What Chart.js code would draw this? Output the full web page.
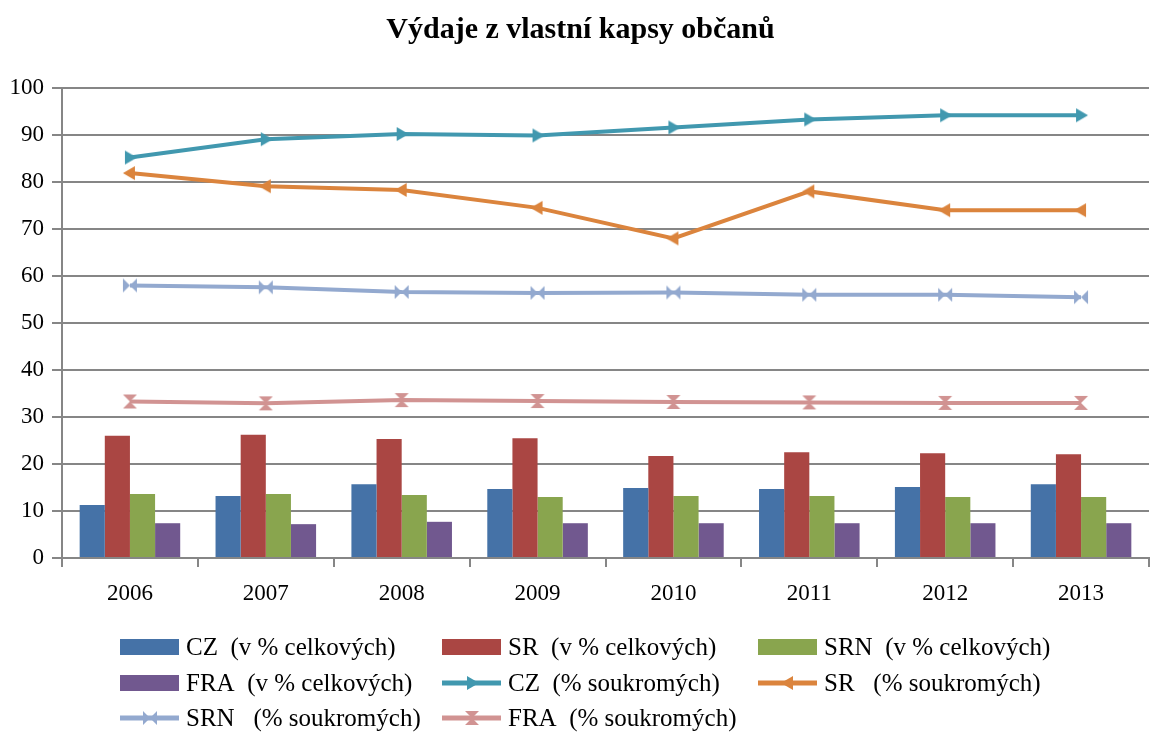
<!DOCTYPE html>
<html>
<head>
<meta charset="utf-8">
<script src="https://cdn.jsdelivr.net/npm/chart.js@4.4.1/dist/chart.umd.min.js"></script>
<style>
  html, body { margin: 0; padding: 0; background: #fff; }
</style>
</head>
<body>
<canvas id="chart" width="1161" height="736"></canvas>
<script>
const years = ["2006", "2007", "2008", "2009", "2010", "2011", "2012", "2013"];
const yTicks = [0, 10, 20, 30, 40, 50, 60, 70, 80, 90, 100];

// v % celkových (sloupce)
const czTotal = [11.3, 13.2, 15.7, 14.7, 14.9, 14.7, 15.1, 15.7];
const srTotal = [26.0, 26.2, 25.3, 25.5, 21.7, 22.5, 22.3, 22.1];
const srnTotal = [13.6, 13.6, 13.4, 13.0, 13.2, 13.2, 13.0, 13.0];
const fraTotal = [7.4, 7.2, 7.7, 7.4, 7.4, 7.4, 7.4, 7.4];

// % soukromých (čáry)
const czPrivate = [85.2, 89.1, 90.2, 89.9, 91.6, 93.3, 94.2, 94.2];
const srPrivate = [81.9, 79.1, 78.3, 74.5, 68.0, 78.0, 74.0, 74.0];
const srnPrivate = [58.0, 57.6, 56.6, 56.4, 56.5, 56.0, 56.0, 55.5];
const fraPrivate = [33.3, 32.9, 33.6, 33.4, 33.2, 33.1, 33.0, 33.0];

const FONT = '"Liberation Serif", "Times New Roman", serif';
const GRID = "#868686";

/* značky bodů jako malé canvasy */
function marker(kind, color) {
  const c = document.createElement("canvas");
  c.width = 16; c.height = 16;
  const g = c.getContext("2d");
  g.fillStyle = color;
  g.beginPath();
  if (kind === "right") {
    g.moveTo(3, 1); g.lineTo(15, 8); g.lineTo(3, 15);
  } else if (kind === "left") {
    g.moveTo(13, 1); g.lineTo(1, 8); g.lineTo(13, 15);
  } else if (kind === "bowtie") {
    g.moveTo(1, 1); g.lineTo(8, 8); g.lineTo(1, 15); g.closePath();
    g.moveTo(15, 1); g.lineTo(8, 8); g.lineTo(15, 15);
  } else {
    g.moveTo(1, 1); g.lineTo(15, 1); g.lineTo(8, 8); g.closePath();
    g.moveTo(1, 15); g.lineTo(15, 15); g.lineTo(8, 8);
  }
  g.closePath();
  g.fill();
  return c;
}

function barSet(label, data, color) {
  return { type: "bar", label, data, backgroundColor: color, order: 1 };
}
function lineSet(label, data, color, kind) {
  return {
    type: "line", label, data, borderColor: color, backgroundColor: color,
    borderWidth: 4, tension: 0, pointStyle: marker(kind, color), pointRadius: 8, order: 0
  };
}

/* legenda ve třech sloupcích */
const gridLegend = {
  id: "gridLegend",
  afterDraw(chart) {
    const ctx = chart.ctx;
    const cols = [120, 442, 758];
    const rows = [647, 683, 718];
    chart.data.datasets.forEach((ds, i) => {
      const x = cols[i % 3], y = rows[Math.floor(i / 3)];
      ctx.save();
      if (ds.type === "line") {
        ctx.strokeStyle = ds.borderColor;
        ctx.lineWidth = 5;
        ctx.beginPath(); ctx.moveTo(x, y); ctx.lineTo(x + 59, y); ctx.stroke();
        const p = ds.pointStyle;
        ctx.drawImage(p, x + 30 - p.width / 2, y - p.height / 2);
      } else {
        ctx.fillStyle = ds.backgroundColor;
        ctx.fillRect(x, y - 8, 59, 16);
      }
      ctx.fillStyle = "#000";
      ctx.font = "25px " + FONT;
      ctx.textBaseline = "middle";
      ctx.fillText(ds.label, x + 66, y + 1);
      ctx.restore();
    });
  }
};

new Chart(document.getElementById("chart"), {
  data: {
    labels: years,
    datasets: [
      barSet("CZ  (v % celkových)", czTotal, "#4572A7"),
      barSet("SR  (v % celkových)", srTotal, "#AA4643"),
      barSet("SRN  (v % celkových)", srnTotal, "#89A54E"),
      barSet("FRA  (v % celkových)", fraTotal, "#71588F"),
      lineSet("CZ  (% soukromých)", czPrivate, "#4198AF", "right"),
      lineSet("SR   (% soukromých)", srPrivate, "#DB843D", "left"),
      lineSet("SRN   (% soukromých)", srnPrivate, "#93A9CF", "bowtie"),
      lineSet("FRA  (% soukromých)", fraPrivate, "#D19392", "hourglass")
    ]
  },
  options: {
    responsive: false,
    animation: false,
    datasets: { bar: { categoryPercentage: 0.74, barPercentage: 1 } },
    layout: { padding: { left: 0, right: 0, top: 0, bottom: 0 } },
    plugins: {
      legend: { display: false },
      tooltip: { enabled: false },
      title: {
        display: true,
        text: "Výdaje z vlastní kapsy občanů",
        color: "#000",
        font: { family: FONT, size: 30, weight: "bold" },
        padding: { top: 12, bottom: 40 }
      }
    },
    scales: {
      x: {
        afterFit: s => { s.height = 178; },
        grid: { drawOnChartArea: false, drawTicks: true, tickLength: 9, color: GRID, lineWidth: 2, offset: true },
        border: { color: GRID, width: 2 },
        ticks: { color: "#000", padding: 13, font: { family: FONT, size: 23 } }
      },
      y: {
        min: 0, max: 100,
        afterFit: s => { s.width = 62; },
        afterBuildTicks: s => { s.ticks = yTicks.map(v => ({ value: v })); },
        grid: { color: GRID, lineWidth: 2, tickLength: 10 },
        border: { color: GRID, width: 2 },
        ticks: { color: "#000", padding: 8, font: { family: FONT, size: 23 } }
      }
    }
  },
  plugins: [gridLegend]
});
</script>
</body>
</html>
